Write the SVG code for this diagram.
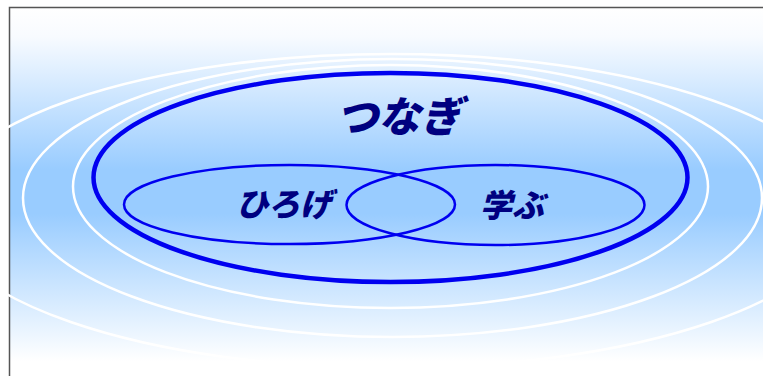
<svg xmlns="http://www.w3.org/2000/svg" width="763" height="376" viewBox="0 0 763 376">
<defs>
<linearGradient id="bg" gradientUnits="userSpaceOnUse" x1="0" y1="7" x2="0" y2="376">
<stop offset="0" stop-color="#ffffff"/>
<stop offset="0.08" stop-color="#f8fbff"/>
<stop offset="0.44" stop-color="#99ccff"/>
<stop offset="0.56" stop-color="#99ccff"/>
<stop offset="0.96" stop-color="#ffffff"/>
</linearGradient>
<style>
.ring{fill:none;stroke:#ffffff;stroke-width:2.5}
.main{fill:none;stroke:#0000f0;stroke-width:4.5}
.sub{fill:none;stroke:#0000f0;stroke-width:2.5}
.lbl{font-family:"Noto Sans CJK JP","Noto Sans CJK SC",sans-serif;font-weight:900;font-style:italic;fill:#000080;text-anchor:middle}
</style>
</defs>
<rect x="0" y="0" width="763" height="376" fill="#ffffff"/>
<rect x="9" y="7" width="754" height="369" fill="url(#bg)"/>
<path d="M9.5 376 V7.5 H763" fill="none" stroke="#555555" stroke-width="1.5"/>
<g id="rings">
<ellipse class="ring" cx="391" cy="211" rx="453" ry="157"/>
<ellipse class="ring" cx="392.5" cy="198" rx="369.5" ry="139"/>
<ellipse class="ring" cx="390.5" cy="186.5" rx="317.5" ry="121.5"/>
</g>
<g id="tsunagi">
<ellipse class="main" cx="390.5" cy="177.5" rx="297" ry="104.5"/>
<text class="lbl" x="399" y="132" font-size="42">つなぎ</text>
</g>
<g id="hiroge">
<ellipse class="sub" cx="289.5" cy="204.5" rx="165.5" ry="39.5"/>
<text class="lbl" x="284" y="216" font-size="32">ひろげ</text>
</g>
<g id="manabu">
<ellipse class="sub" cx="495.5" cy="205" rx="149" ry="40"/>
<text class="lbl" x="512" y="217" font-size="32">学ぶ</text>
</g>
</svg>
